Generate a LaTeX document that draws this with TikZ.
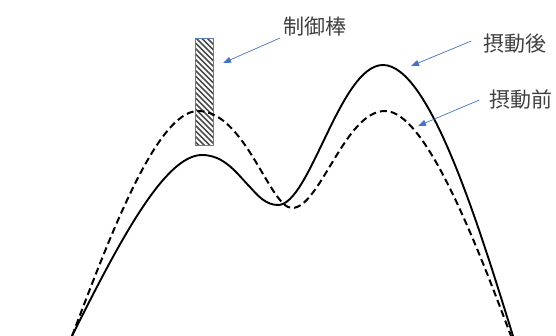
\documentclass[tikz,border=0pt]{standalone}
\usepackage{fontspec}
\newfontfamily\jpfont{Noto Sans CJK JP}
\usetikzlibrary{arrows.meta}
\definecolor{callblue}{HTML}{4472C4}
\definecolor{rodedge}{HTML}{5B7DB5}
\definecolor{labelgray}{HTML}{404040}
\tikzset{
  lbl/.style={text=labelgray, font=\jpfont\fontsize{21}{24}\selectfont, inner sep=1pt},
  callout/.style={draw=callblue, line width=0.7pt, -{Triangle[length=8pt,width=6pt]}},
  flux/.style={line width=1.9pt}
}
\begin{document}
\begin{tikzpicture}[x=1pt,y=-1pt]
\useasboundingbox (0,0) rectangle (556,336);
% control rod
\fill[white] (195,39) rectangle (213,146);
\begin{scope}
  \clip (195,39) rectangle (213,146);
  \foreach \y in {4.5,10,...,150}
    \draw[black!70, line width=1.5pt] (190,\y) -- ++(30,30);
\end{scope}
\draw[rodedge, line width=1pt] (195,39) rectangle (213,146);
% flux before perturbation
\draw[flux, line width=2pt, dash pattern=on 7pt off 4pt]
  (72,336) .. controls (105,250) and (155,111) .. (198,111)
  .. controls (245,111) and (270,208) .. (292,208)
  .. controls (320,208) and (345,111) .. (385,111)
  .. controls (425,111) and (475,240) .. (511,336);
% flux after perturbation
\draw[flux]
  (72,336) .. controls (120,240) and (165,155) .. (202,155)
  .. controls (225,155) and (238,175) .. (250,187)
  .. controls (258,196) and (266,205) .. (278,205)
  .. controls (310,205) and (340,65) .. (383,65)
  .. controls (430,65) and (480,230) .. (513,336);
% labels
\node[lbl] (rod) at (315,27) {制御棒};
\node[lbl] (after) at (515,44) {摂動後};
\node[lbl] (before) at (521,100) {摂動前};
\coordinate (rodtip) at (223,63);
\coordinate (aftertip) at (411,66);
\coordinate (beforetip) at (418,126);
\draw[callout] ([xshift=-2pt]rod.south west) -- (rodtip);
\draw[callout] ([xshift=-11pt,yshift=3pt]after.west) -- (aftertip);
\draw[callout] ([xshift=-9pt]before.west) -- (beforetip);
\end{tikzpicture}
\end{document}
